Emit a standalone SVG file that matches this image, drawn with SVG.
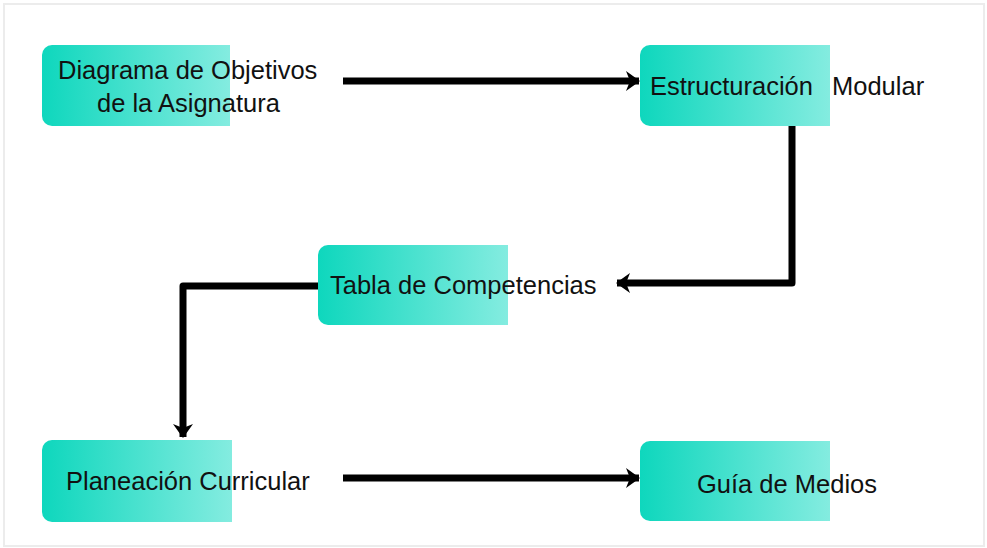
<svg xmlns="http://www.w3.org/2000/svg" width="987" height="548" viewBox="0 0 987 548">
<defs>
<linearGradient id="g" x1="0" y1="0" x2="1" y2="0">
<stop offset="0" stop-color="#0ed7bd"/>
<stop offset="1" stop-color="#84ece0"/>
</linearGradient>
<marker id="ah" viewBox="0 0 14 20" refX="13" refY="10" markerWidth="14" markerHeight="20" markerUnits="userSpaceOnUse" orient="auto">
<path d="M0,0 L14,10 L0,20 L4,10 Z" fill="#000"/>
</marker>
<style>
.box{fill:url(#g);}
.t{font-family:"Liberation Sans",Arial,sans-serif;font-size:25.5px;fill:#111;}
.c{fill:none;stroke:#000;stroke-width:7;stroke-linejoin:round;marker-end:url(#ah);}
</style>
</defs>
<rect x="0" y="0" width="987" height="548" fill="#fff"/>
<rect x="4" y="4" width="980" height="542" fill="none" stroke="#ececec" stroke-width="2"/>
<g id="connectors">
<path class="c" d="M343,81 L639,81"/>
<path class="c" d="M792,123 L792,283 L617,283"/>
<path class="c" d="M318,286 L183,286 L183,437"/>
<path class="c" d="M343,478 L639,478"/>
</g>
<g id="n1">
<path class="box" d="M52,45 H230 V126 H52 A10,10 0 0 1 42,116 V55 A10,10 0 0 1 52,45 Z"/>
<text class="t" x="58" y="79">Diagrama de Objetivos</text>
<text class="t" x="97" y="112">de la Asignatura</text>
</g>
<g id="n2">
<path class="box" d="M650,45 H830 V126 H650 A10,10 0 0 1 640,116 V55 A10,10 0 0 1 650,45 Z"/>
<text class="t" x="650" y="95">Estructuración <tspan x="832">Modular</tspan></text>
</g>
<g id="n3">
<path class="box" d="M328,245 H508 V325 H328 A10,10 0 0 1 318,315 V255 A10,10 0 0 1 328,245 Z"/>
<text class="t" x="330" y="294">Tabla de Competencias</text>
</g>
<g id="n4">
<path class="box" d="M52,440 H232 V522 H52 A10,10 0 0 1 42,512 V450 A10,10 0 0 1 52,440 Z"/>
<text class="t" x="66" y="490">Planeación Curricular</text>
</g>
<g id="n5">
<path class="box" d="M650,441 H830 V521 H650 A10,10 0 0 1 640,511 V451 A10,10 0 0 1 650,441 Z"/>
<text class="t" x="697" y="493">Guía de Medios</text>
</g>
</svg>
